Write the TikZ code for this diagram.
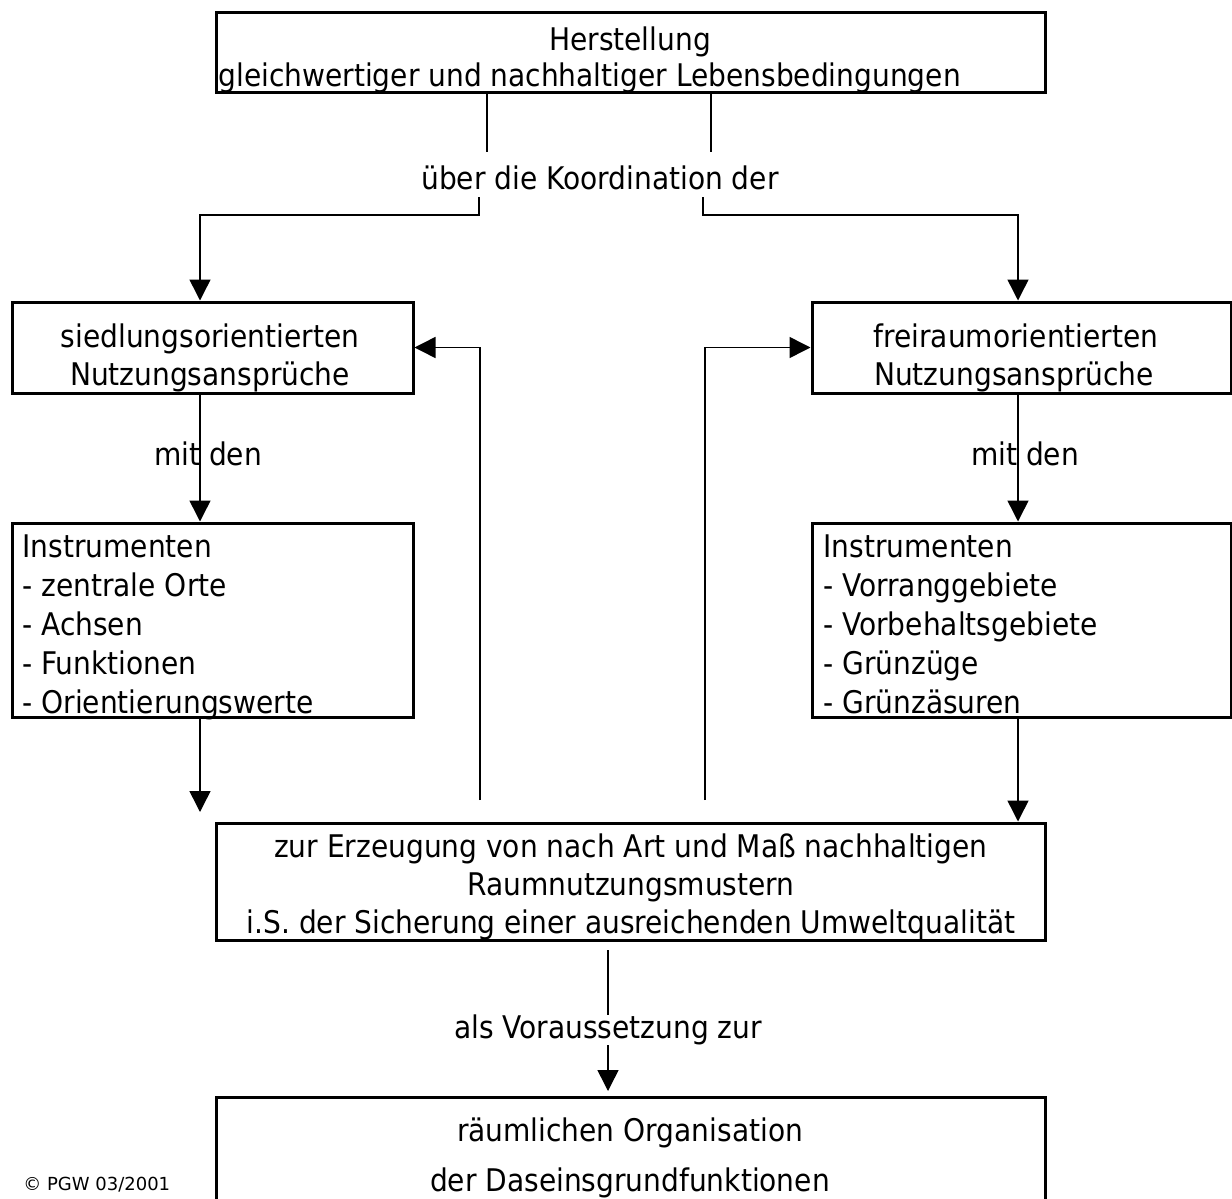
\documentclass[tikz,border=0pt]{standalone}
\usepackage{fontspec}
\setmainfont{DejaVu Sans Condensed}
\newfontfamily\widefont{DejaVu Sans}
\usetikzlibrary{arrows.meta, positioning}
\tikzset{
    box/.style={draw, line width=1.5pt, rectangle, inner sep=0pt}, % thick frame of each block
    txt/.style={font=\fontsize{15.6pt}{19pt}\selectfont, inner sep=0pt}, % all the body text
    con/.style={line width=0.75pt}, % plain connector
    arr/.style={con, -{Triangle[width=10.5pt,length=10.5pt]}}, % connector with a filled head
    }

\begin{document}
\begin{tikzpicture}[x=0.5pt, y=-0.5pt]
\useasboundingbox (0,0) rectangle (1232,1199);

% blocks
\node[box, minimum width=414.5pt, minimum height=40pt] (herst) at (630.5,52) {};
\node[box, minimum width=200.5pt, minimum height=45.5pt] (siedl) at (212.5,347.5) {};
\node[box, minimum width=209.5pt, minimum height=45.5pt] (frei) at (1021.5,347.5) {};
\node[box, minimum width=200.5pt, minimum height=97pt] (instL) at (212.5,620) {};
\node[box, minimum width=209.5pt, minimum height=97pt] (instR) at (1021.5,620) {};
\node[box, minimum width=414.5pt, minimum height=58.5pt] (erz) at (630.5,881.5) {};
\node[box, minimum width=414.5pt, minimum height=70pt] (raum) at (630.5,1167) {};

% texts
\node[txt, anchor=base] (herst1) at (630,50) {Herstellung};
\node[txt, anchor=base west] (herst2) at (218,86) {gleichwertiger und nachhaltiger Lebensbedingungen};
\node[txt, anchor=base] (koord) at (600,189) {über die Koordination der};
\node[txt, anchor=base] (siedl1) at (210,347) {siedlungsorientierten};
\node[txt, anchor=base] (siedl2) at (210,385) {Nutzungsansprüche};
\node[txt, anchor=base] (frei1) at (1016,347) {freiraumorientierten};
\node[txt, anchor=base] (frei2) at (1014,385) {Nutzungsansprüche};
\node[txt, anchor=base] (mitL) at (208,465) {mit den};
\node[txt, anchor=base] (mitR) at (1025,465) {mit den};
\foreach \t [count=\i] in {Instrumenten, - zentrale Orte, - Achsen, - Funktionen, - Orientierungswerte}
    \node[txt, anchor=base west] (instL-\i) at (22,518+39*\i) {\t};
\foreach \t [count=\i] in {Instrumenten, - Vorranggebiete, - Vorbehaltsgebiete, - Grünzüge, - Grünzäsuren}
    \node[txt, anchor=base west] (instR-\i) at (823,518+39*\i) {\t};
\node[txt, anchor=base] (erz1) at (631,857) {zur Erzeugung von nach Art und Maß nachhaltigen};
\node[txt, anchor=base] (erz2) at (631,895) {Raumnutzungsmustern};
\node[txt, anchor=base] (erz3) at (631,933) {i.S. der Sicherung einer ausreichenden Umweltqualität};
\node[txt, anchor=base] (vor) at (608,1038) {als Voraussetzung zur};
\node[txt, anchor=base] (raum1) at (630,1141) {räumlichen Organisation};
\node[txt, anchor=base] (raum2) at (630,1191) {der Daseinsgrundfunktionen};
\node[font=\widefont\fontsize{9pt}{11pt}\selectfont, inner sep=0pt, anchor=base west] (pgw) at (23,1190) {© PGW 03/2001};

% helper points
\coordinate (kA) at (487,152);
\coordinate (kB) at (711,152);
\coordinate (kC) at (479,197);
\coordinate (kD) at (703,197);
\coordinate (lT) at (200,215);
\coordinate (rT) at (1018,215);
\coordinate (lB) at (200,812);
\coordinate (fL) at (480,800);
\coordinate (fR) at (705,800);
\coordinate (vA) at (608,950);
\coordinate (vB) at (608,1015);
\coordinate (vC) at (608,1045);
\coordinate (vD) at (608,1091);

% connectors
\draw[con] (herst.south -| kA) -- (kA);
\draw[con] (herst.south -| kB) -- (kB);
\draw[arr] (kC) |- (lT) -- (siedl.north -| lT);
\draw[arr] (kD) |- (rT) -- (frei.north -| rT);
\draw[arr] (siedl.south -| lT) -- (instL.north -| lT);
\draw[arr] (frei.south -| rT) -- (instR.north -| rT);
\draw[arr] (instL.south -| lT) -- (lB);
\draw[arr] (instR.south -| rT) -- (erz.north -| rT);
\draw[arr] (fL) |- (siedl.east);
\draw[arr] (fR) |- (frei.west);
\draw[con] (vA) -- (vB);
\draw[arr] (vC) -- (vD);

\end{tikzpicture}
\end{document}
